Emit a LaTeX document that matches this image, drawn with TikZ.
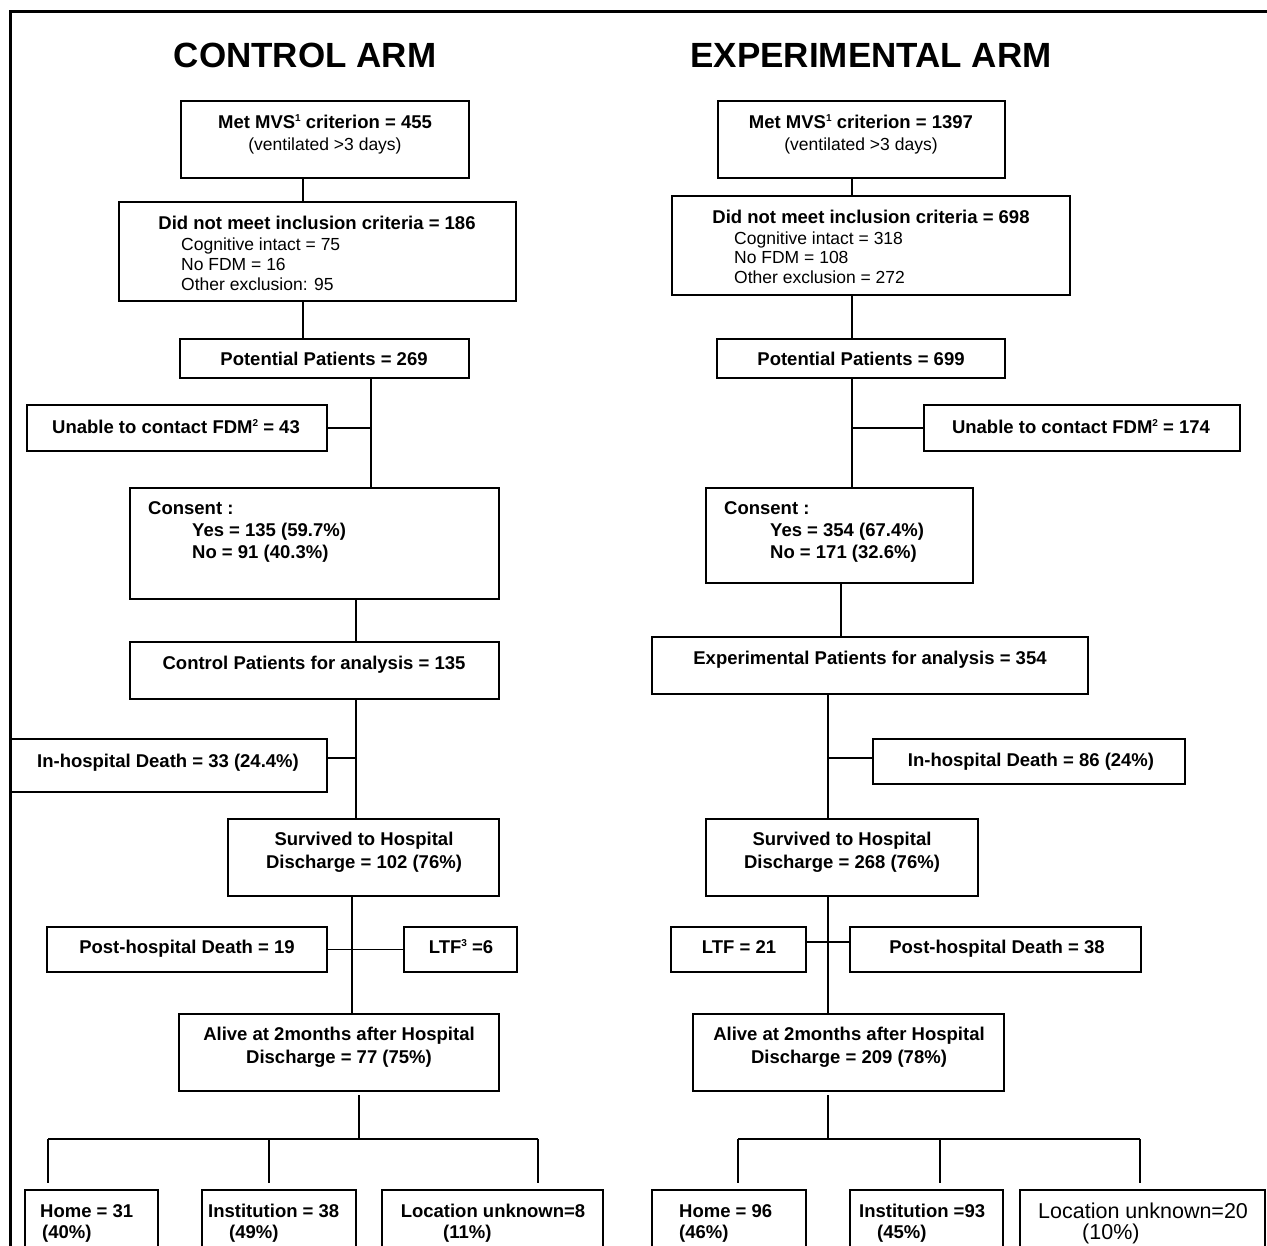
\documentclass[tikz,border=0pt]{standalone}
\usepackage{fontspec}
\setmainfont{Liberation Sans}
\begin{document}
\newcommand{\mysup}[1]{\raisebox{7pt}{\fontsize{10}{10}\selectfont #1}}
\tikzset{
  boxst/.style={draw, line width=2.4pt, inner sep=0pt, outer sep=0pt, rectangle},
  conn/.style={line width=1.3pt},
  frame/.style={line width=3pt},
  ttl/.style={font=\fontsize{35}{40}\selectfont\bfseries, inner sep=0pt, anchor=base},
  bt/.style={font=\fontsize{18.5}{22}\selectfont\bfseries, inner sep=0pt, anchor=base},
  btl/.style={bt, anchor=base west},
  rtc/.style={font=\fontsize{17.5}{20}\selectfont, inner sep=0pt, anchor=base},
  rtl/.style={rtc, anchor=base west},
  rtbig/.style={font=\fontsize{21.5}{24}\selectfont, inner sep=0pt, anchor=base west},
}
\newcommand{\mybox}[5]{\node[boxst, minimum width={(#4)-(#2)}, minimum height={(#5)-(#3)}] (#1) at ({((#2)+(#4))/2},{((#3)+(#5))/2}) {};}
\begin{tikzpicture}[x=1pt,y=-1pt]
\path[use as bounding box, clip] (0,0) rectangle (1267,1246);
\fill[white] (0,0) rectangle (1267,1246);
% frame
\draw[frame] (10,1260) -- (10,12) -- (1275,12);
% titles
\node[ttl] (tC) at (305,68) {CONTROL ARM};
\node[ttl] (tE) at (871,68) {EXPERIMENTAL ARM};
% control boxes
\mybox{c1}{181}{101}{469}{178}
\mybox{c2}{119}{202}{516}{301}
\mybox{c3}{180}{339}{469}{378}
\mybox{c4}{27}{405}{327}{451}
\mybox{c5}{130}{488}{499}{599}
\mybox{c6}{130}{642}{499}{699}
\mybox{c7}{10}{739}{327}{792}
\mybox{c8}{228}{819}{499}{896}
\mybox{c9}{47}{927}{327}{972}
\mybox{c10}{404}{927}{517}{972}
\mybox{c11}{179}{1014}{499}{1091}
\mybox{c12}{25}{1190}{158}{1275}
\mybox{c13}{202}{1190}{356}{1275}
\mybox{c14}{382}{1190}{603}{1275}
% experimental boxes
\mybox{e1}{718}{101}{1005}{178}
\mybox{e2}{672}{196}{1070}{295}
\mybox{e3}{717}{339}{1005}{378}
\mybox{e4}{924}{405}{1240}{451}
\mybox{e5}{706}{488}{973}{583}
\mybox{e6}{652}{637}{1088}{694}
\mybox{e7}{873}{739}{1185}{784}
\mybox{e8}{706}{819}{978}{896}
\mybox{e9}{671}{927}{806}{972}
\mybox{e10}{850}{927}{1141}{972}
\mybox{e11}{693}{1014}{1004}{1091}
\mybox{e12}{652}{1190}{806}{1275}
\mybox{e13}{850}{1190}{1003}{1275}
\mybox{e14}{1020}{1190}{1265}{1275}
% column coordinates
\coordinate (xa) at (303,0);
\coordinate (xb) at (371,0);
\coordinate (xc) at (356,0);
\coordinate (xd) at (352,0);
\coordinate (xe) at (359,0);
\coordinate (ya) at (852,0);
\coordinate (yb) at (841,0);
\coordinate (yc) at (828,0);
\coordinate (h7) at (356,758);
\coordinate (h7e) at (828,758);
\coordinate (h9e) at (828,942);
\coordinate (cb1) at (48,1139);
\coordinate (cb2) at (269,1139);
\coordinate (cb3) at (538,1139);
\coordinate (cbm) at (359,1139);
\coordinate (eb1) at (738,1139);
\coordinate (eb2) at (940,1139);
\coordinate (eb3) at (1140,1139);
\coordinate (ebm) at (828,1139);
% control connectors
\draw[conn] (xa |- c1.south) -- (xa |- c2.north);
\draw[conn] (xa |- c2.south) -- (xa |- c3.north);
\draw[conn] (xb |- c3.south) -- (xb |- c5.north);
\draw[conn] (c4.east) -- (xb |- c4.east);
\draw[conn] (xc |- c5.south) -- (xc |- c6.north);
\draw[conn] (xc |- c6.south) -- (xc |- c8.north);
\draw[conn] (c7.east |- h7) -- (h7);
\draw[conn] (xd |- c8.south) -- (xd |- c11.north);
\draw[conn] (c9.east) -- (c10.west);
\draw[conn, shorten <=4pt] (xe |- c11.south) -- (cbm);
\draw[conn] (cb1) -- (cb3);
\draw[conn, shorten >=7pt] (cb1) -- (cb1 |- c12.north);
\draw[conn, shorten >=7pt] (cb2) -- (cb2 |- c13.north);
\draw[conn, shorten >=7pt] (cb3) -- (cb3 |- c14.north);
% experimental connectors
\draw[conn] (ya |- e1.south) -- (ya |- e2.north);
\draw[conn] (ya |- e2.south) -- (ya |- e3.north);
\draw[conn] (ya |- e3.south) -- (ya |- e5.north);
\draw[conn] (e4.west) -- (ya |- e4.west);
\draw[conn] (yb |- e5.south) -- (yb |- e6.north);
\draw[conn] (yc |- e6.south) -- (yc |- e8.north);
\draw[conn] (e7.west |- h7e) -- (h7e);
\draw[conn] (yc |- e8.south) -- (yc |- e11.north);
\draw[conn] (e9.east |- h9e) -- (e10.west |- h9e);
\draw[conn, shorten <=4pt] (yc |- e11.south) -- (ebm);
\draw[conn] (eb1) -- (eb3);
\draw[conn, shorten >=7pt] (eb1) -- (eb1 |- e12.north);
\draw[conn, shorten >=7pt] (eb2) -- (eb2 |- e13.north);
\draw[conn, shorten >=7pt] (eb3) -- (eb3 |- e14.north);
% control texts
\node[bt] (tc1a) at (325,128.6) {Met MVS\mysup{1} criterion = 455};
\node[rtc] (tc1b) at (325,150.3) {(ventilated >3 days)};
\node[bt] (tc2a) at (317,229.6) {Did not meet inclusion criteria = 186};
\node[rtl] (tc2b) at (181,250.3) {Cognitive intact = 75};
\node[rtl] (tc2c) at (181,270.3) {No FDM = 16};
\node[rtl] (tc2d) at (181,290.3) {Other exclusion: 95};
\node[bt] (tc3) at (324,365.6) {Potential Patients = 269};
\node[bt] (tc4) at (176,433.6) {Unable to contact FDM\mysup{2} = 43};
\node[btl] (tc5a) at (148,514.6) {Consent :};
\node[btl] (tc5b) at (192,536.6) {Yes = 135 (59.7\%)};
\node[btl] (tc5c) at (192,558.6) {No = 91 (40.3\%)};
\node[bt] (tc6) at (314,669.6) {Control Patients for analysis = 135};
\node[bt] (tc7) at (168,767.6) {In-hospital Death = 33 (24.4\%)};
\node[bt] (tc8a) at (364,845.6) {Survived to Hospital};
\node[bt] (tc8b) at (364,868.6) {Discharge = 102 (76\%)};
\node[bt] (tc9) at (187,953.6) {Post-hospital Death = 19};
\node[bt] (tc10) at (461,953.6) {LTF\mysup{3} =6};
\node[bt] (tc11a) at (339,1040.6) {Alive at 2months after Hospital};
\node[bt] (tc11b) at (339,1063.6) {Discharge = 77 (75\%)};
\node[btl] (tc12a) at (40,1217.6) {Home = 31};
\node[btl] (tc12b) at (42,1238.6) {(40\%)};
\node[btl] (tc13a) at (208,1217.6) {Institution = 38};
\node[btl] (tc13b) at (229,1238.6) {(49\%)};
\node[bt] (tc14a) at (493,1217.6) {Location unknown=8};
\node[btl] (tc14b) at (443,1238.6) {(11\%)};
% experimental texts
\node[bt] (te1a) at (861,128.6) {Met MVS\mysup{1} criterion = 1397};
\node[rtc] (te1b) at (861,150.3) {(ventilated >3 days)};
\node[bt] (te2a) at (871,223.6) {Did not meet inclusion criteria = 698};
\node[rtl] (te2b) at (734,244.3) {Cognitive intact = 318};
\node[rtl] (te2c) at (734,264.0) {No FDM = 108};
\node[rtl] (te2d) at (734,283.3) {Other exclusion = 272};
\node[bt] (te3) at (861,365.6) {Potential Patients = 699};
\node[bt] (te4) at (1081,433.6) {Unable to contact FDM\mysup{2} = 174};
\node[btl] (te5a) at (724,514.6) {Consent :};
\node[btl] (te5b) at (770,536.6) {Yes = 354 (67.4\%)};
\node[btl] (te5c) at (770,558.6) {No = 171 (32.6\%)};
\node[bt] (te6) at (870,664.6) {Experimental Patients for analysis = 354};
\node[bt] (te7) at (1031,766.6) {In-hospital Death = 86 (24\%)};
\node[bt] (te8a) at (842,845.6) {Survived to Hospital};
\node[bt] (te8b) at (842,868.6) {Discharge = 268 (76\%)};
\node[bt] (te9) at (739,953.6) {LTF = 21};
\node[bt] (te10) at (997,953.6) {Post-hospital Death = 38};
\node[bt] (te11a) at (849,1040.6) {Alive at 2months after Hospital};
\node[bt] (te11b) at (849,1063.6) {Discharge = 209 (78\%)};
\node[btl] (te12a) at (679,1217.6) {Home = 96};
\node[btl] (te12b) at (679,1238.6) {(46\%)};
\node[btl] (te13a) at (859,1217.6) {Institution =93};
\node[btl] (te13b) at (877,1238.6) {(45\%)};
\node[rtbig] (te14a) at (1038,1218.7) {Location unknown=20};
\node[rtbig] (te14b) at (1082,1239.7) {(10\%)};
\end{tikzpicture}
\end{document}
